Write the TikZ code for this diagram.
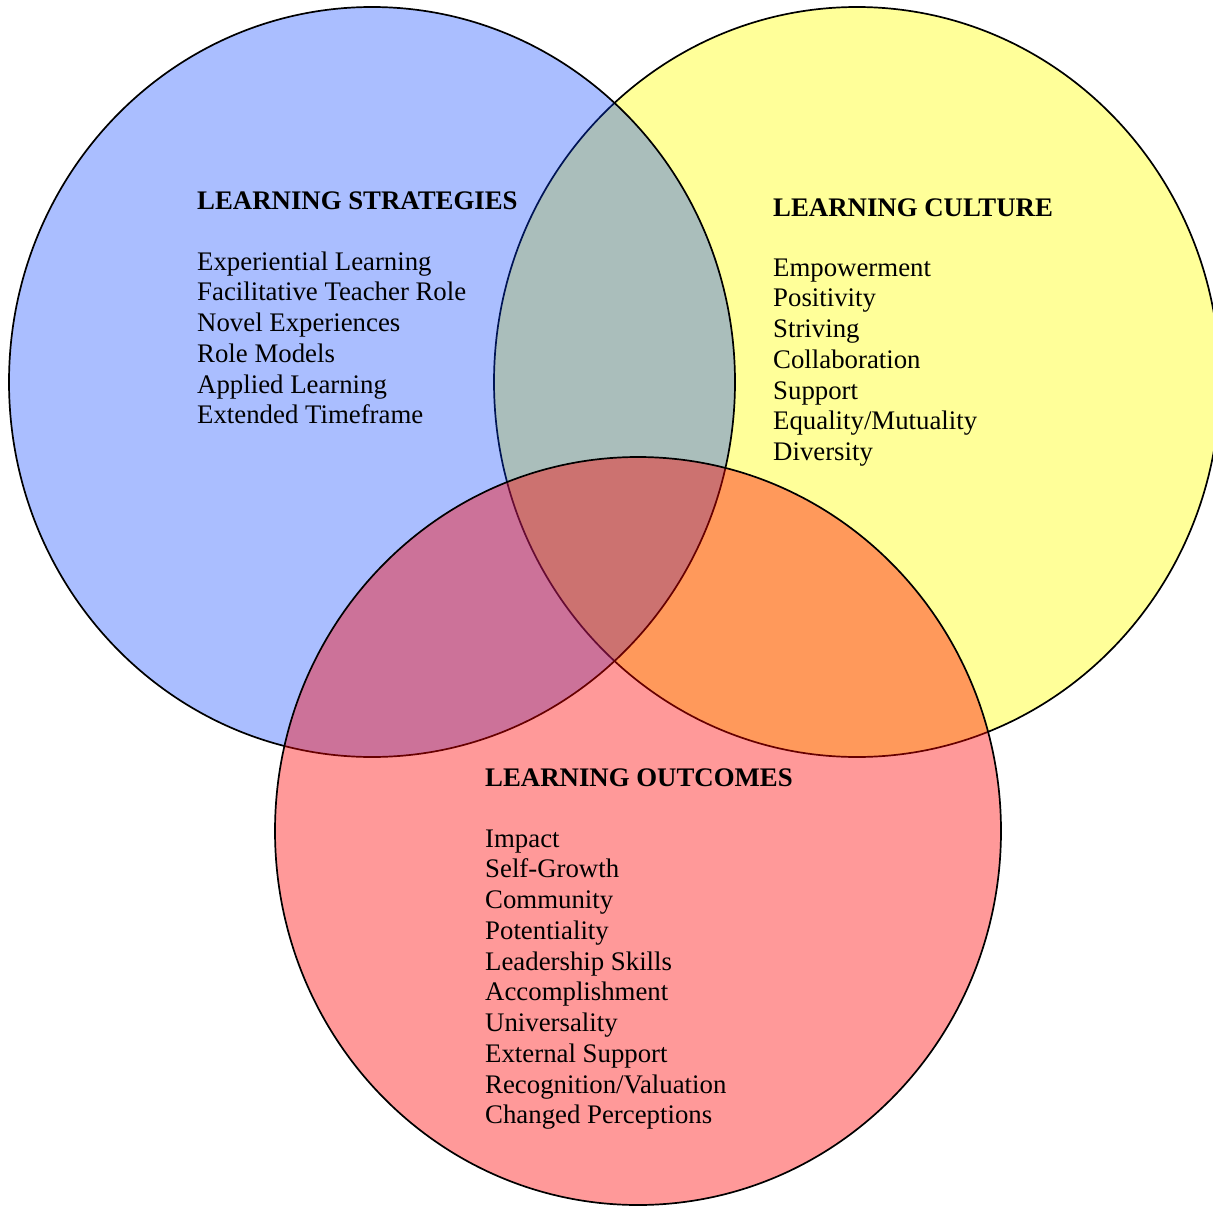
\documentclass[tikz,border=0pt]{standalone}
\usepackage{fontspec}
\setmainfont{Liberation Serif}
\begin{document}
\begin{tikzpicture}[x=1pt,y=-1pt,
  ring/.style={draw=black,line width=1.7pt},
  ttl/.style={anchor=base west,inner sep=0pt,font=\fontsize{26.8}{30.8}\selectfont\bfseries},
  itm/.style={anchor=base west,inner sep=0pt,font=\fontsize{26.8}{30.8}\selectfont}]
\definecolor{ylw}{RGB}{255,255,153}
\definecolor{blu}{RGB}{0,60,255}
\definecolor{rd}{RGB}{255,0,0}
\useasboundingbox (0,0) rectangle (1213,1207);
% circles
\path[ring,fill=ylw] (857,382) ellipse [x radius=363pt, y radius=375pt];
\path[ring,fill=blu,fill opacity=0.333] (372,382) ellipse [x radius=363pt, y radius=375pt];
\path[ring,fill=rd,fill opacity=0.4] (638,831) ellipse [x radius=363pt, y radius=374pt];
% Learning strategies
\node[ttl] (ts) at (197,209) {LEARNING STRATEGIES};
\foreach \t [count=\i] in {Experiential Learning,Facilitative Teacher Role,Novel Experiences,Role Models,Applied Learning,Extended Timeframe}
  \node[itm] (s\i) at (197,{270+30.77*(\i-1)}) {\t};
% Learning culture
\node[ttl] (tc) at (773,216) {LEARNING CULTURE};
\foreach \t [count=\i] in {Empowerment,Positivity,Striving,Collaboration,Support,Equality/Mutuality,Diversity}
  \node[itm] (c\i) at (773,{276+30.77*(\i-1)}) {\t};
% Learning outcomes
\node[ttl] (to) at (485,786) {LEARNING OUTCOMES};
\foreach \t [count=\i] in {Impact,Self-Growth,Community,Potentiality,Leadership Skills,Accomplishment,Universality,External Support,Recognition/Valuation,Changed Perceptions}
  \node[itm] (o\i) at (485,{847+30.77*(\i-1)}) {\t};
\end{tikzpicture}
\end{document}
